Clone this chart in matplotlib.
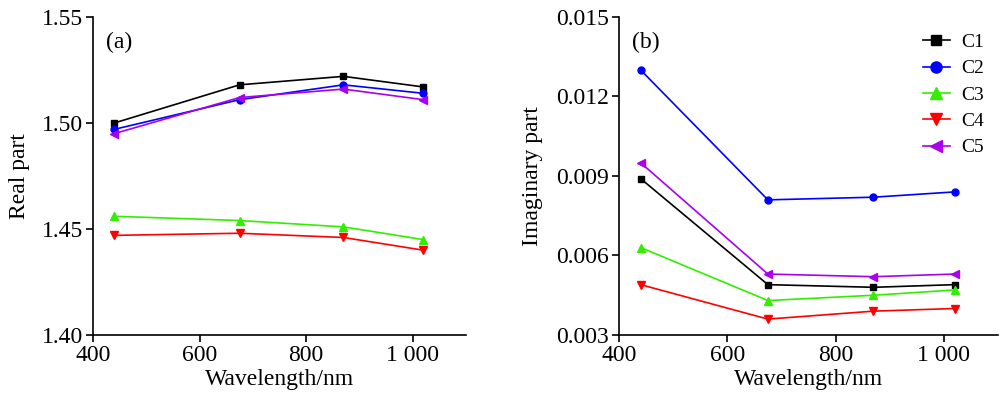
import matplotlib
matplotlib.use("Agg")
import matplotlib.pyplot as plt

plt.rcParams['font.family'] = ['Liberation Serif', 'DejaVu Serif']
plt.rcParams['font.serif'] = ['Liberation Serif', 'DejaVu Serif']
plt.rcParams['mathtext.fontset'] = 'stix'

wavelengths = [440, 675, 870, 1020]
series_names = ["C1", "C2", "C3", "C4", "C5"]

real_c1 = [1.500, 1.518, 1.522, 1.517]
real_c2 = [1.497, 1.511, 1.518, 1.514]
real_c3 = [1.456, 1.454, 1.451, 1.445]
real_c4 = [1.447, 1.448, 1.446, 1.440]
real_c5 = [1.495, 1.512, 1.516, 1.511]

imag_c1 = [0.0089, 0.0049, 0.0048, 0.0049]
imag_c2 = [0.0130, 0.0081, 0.0082, 0.0084]
imag_c3 = [0.0063, 0.0043, 0.0045, 0.0047]
imag_c4 = [0.0049, 0.0036, 0.0039, 0.0040]
imag_c5 = [0.0095, 0.0053, 0.0052, 0.0053]

x_ticks = [400, 600, 800, 1000]
x_ticklabels = ["400", "600", "800", "1 000"]
real_ticks = [1.40, 1.45, 1.50, 1.55]
real_ticklabels = ["1.40", "1.45", "1.50", "1.55"]
imag_ticks = [0.003, 0.006, 0.009, 0.012, 0.015]
imag_ticklabels = ["0.003", "0.006", "0.009", "0.012", "0.015"]

colors = ["#000000", "#0000ff", "#33ee00", "#ff0000", "#aa00ee"]
markers = ["s", "o", "^", "v", "<"]
msizes = [4.5, 5, 5.5, 5.5, 5.5]

FONT = ['Liberation Serif', 'DejaVu Serif']
FS = 17

fig = plt.figure(figsize=(10, 3.99), dpi=100)
ax1 = fig.add_axes([0.093, 0.1604, 0.373, 0.797])
ax2 = fig.add_axes([0.619, 0.1604, 0.379, 0.797])

real_data = [real_c1, real_c2, real_c3, real_c4, real_c5]
imag_data = [imag_c1, imag_c2, imag_c3, imag_c4, imag_c5]

for i in range(5):
    ax1.plot(wavelengths, real_data[i], color=colors[i], marker=markers[i],
             markersize=msizes[i], linewidth=1.2, label=series_names[i])
    ax2.plot(wavelengths, imag_data[i], color=colors[i], marker=markers[i],
             markersize=msizes[i], linewidth=1.2, label=series_names[i])

for ax in (ax1, ax2):
    ax.set_xlim(400, 1100)
    ax.set_xticks(x_ticks)
    ax.set_xticklabels(x_ticklabels, fontfamily=FONT, fontsize=FS)
    for s in ("top", "right"):
        ax.spines[s].set_visible(False)
    for s in ("left", "bottom"):
        ax.spines[s].set_linewidth(1.2)
    ax.tick_params(direction="out", length=5, width=1.2, pad=2)
    ax.set_xlabel("Wavelength/nm", fontsize=FS, fontfamily=FONT, labelpad=2)

ax1.set_ylim(1.40, 1.55)
ax1.set_yticks(real_ticks)
ax1.set_yticklabels(real_ticklabels, fontfamily=FONT, fontsize=FS)
ax1.set_ylabel("Real part", fontsize=FS, fontfamily=FONT, labelpad=9)
ax1.text(0.035, 0.921, "(a)", transform=ax1.transAxes, fontsize=FS,
         fontfamily=FONT, va="center")

ax2.set_ylim(0.003, 0.015)
ax2.set_yticks(imag_ticks)
ax2.set_yticklabels(imag_ticklabels, fontfamily=FONT, fontsize=FS)
ax2.set_ylabel("Imaginary part", fontsize=FS, fontfamily=FONT, labelpad=10)
ax2.text(0.035, 0.921, "(b)", transform=ax2.transAxes, fontsize=FS,
         fontfamily=FONT, va="center")

ax2.legend(loc="upper right", bbox_to_anchor=(0.995, 0.985), frameon=False,
           prop={'family': FONT, 'size': 14}, markerscale=1.6,
           handlelength=1.4, handletextpad=0.6,
           labelspacing=0.45, borderaxespad=0.2)

fig.savefig("out.png", dpi=100)
